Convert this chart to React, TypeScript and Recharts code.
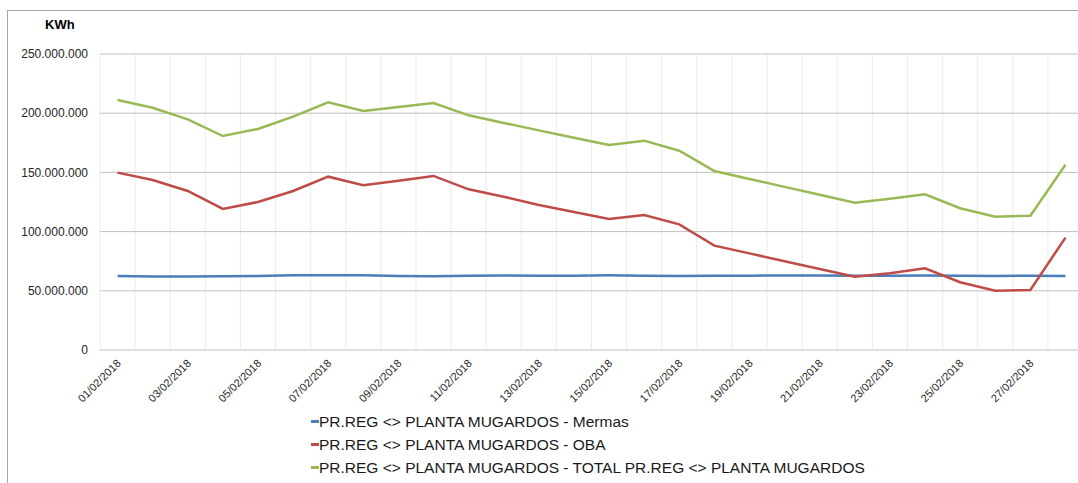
import {
  CartesianGrid,
  Legend,
  Line,
  LineChart,
  XAxis,
  YAxis,
} from "recharts";

const dates = [
  "01/02/2018", "02/02/2018", "03/02/2018", "04/02/2018", "05/02/2018",
  "06/02/2018", "07/02/2018", "08/02/2018", "09/02/2018", "10/02/2018",
  "11/02/2018", "12/02/2018", "13/02/2018", "14/02/2018", "15/02/2018",
  "16/02/2018", "17/02/2018", "18/02/2018", "19/02/2018", "20/02/2018",
  "21/02/2018", "22/02/2018", "23/02/2018", "24/02/2018", "25/02/2018",
  "26/02/2018", "27/02/2018", "28/02/2018",
];

const mermas = [
  62500000, 62000000, 62000000, 62300000, 62500000, 63100000, 63100000,
  63100000, 62500000, 62200000, 62800000, 63000000, 62800000, 62800000,
  63100000, 62800000, 62600000, 62800000, 62800000, 62900000, 63000000,
  62800000, 62800000, 62900000, 62800000, 62600000, 62800000, 62500000,
];

const oba = [
  149800000, 143600000, 134300000, 119100000, 125000000, 134300000, 146400000,
  139100000, 143000000, 147000000, 135700000, 129500000, 122500000, 116500000,
  110600000, 114000000, 106100000, 88100000, 81600000, 75000000, 68400000,
  61800000, 64800000, 69000000, 57200000, 50100000, 50700000, 94900000,
];

const total = [
  211100000, 204600000, 194800000, 180700000, 186700000, 197100000, 209200000,
  201900000, 205200000, 208600000, 198200000, 191800000, 185500000, 179200000,
  173100000, 176800000, 168300000, 151200000, 144500000, 137800000, 131100000,
  124400000, 127800000, 131500000, 119700000, 112600000, 113400000, 156500000,
];

const yTicks = [0, 50000000, 100000000, 150000000, 200000000, 250000000];

const SERIES = [
  { key: "mermas", name: "PR.REG <> PLANTA MUGARDOS - Mermas", color: "#4A7EBB" },
  { key: "oba", name: "PR.REG <> PLANTA MUGARDOS - OBA", color: "#BE4B48" },
  {
    key: "total",
    name: "PR.REG <> PLANTA MUGARDOS - TOTAL PR.REG <> PLANTA MUGARDOS",
    color: "#98B954",
  },
];

const FONT = "'Liberation Sans', Arial, sans-serif";

const data = dates.map((date, i) => ({
  idx: i,
  date,
  mermas: mermas[i],
  oba: oba[i],
  total: total[i],
}));

// tick marks / vertical grid sit between the days, labels on the days
const boundaryTicks = dates.map((_, i) => i - 0.5).concat(dates.length - 0.5);
const labelTicks = dates.map((_, i) => i).filter((i) => i % 2 === 0);

function fmt(v: number): string {
  return String(v).replace(/\B(?=(\d{3})+(?!\d))/g, ".");
}

function DateTick(props: any) {
  const { x, y, payload } = props;
  return (
    <g transform={`translate(${x + 4},${y + 14})`}>
      <text
        x={0}
        y={0}
        textAnchor="end"
        transform="rotate(-45)"
        fontSize={11}
        fontFamily={FONT}
        fill="#262626"
      >
        {dates[payload.value]}
      </text>
    </g>
  );
}

function LegendBox() {
  return (
    <div style={{ fontFamily: FONT, fontSize: 15.5, color: "#1a1a1a" }}>
      {SERIES.map((s) => (
        <div
          key={s.key}
          style={{ display: "flex", alignItems: "center", height: 23, whiteSpace: "nowrap" }}
        >
          <span
            style={{
              display: "inline-block",
              width: 8,
              height: 3,
              background: s.color,
            }}
          />
          {s.name}
        </div>
      ))}
    </div>
  );
}

export default function App() {
  return (
    <div
      style={{
        position: "absolute",
        left: 7,
        top: 10,
        width: 1071,
        height: 473,
        overflow: "hidden",
        borderLeft: "1px solid #a6a6a6",
        borderTop: "1px solid #a6a6a6",
        background: "#fff",
      }}
    >
      <div
        style={{
          position: "absolute",
          left: 37,
          top: 6,
          fontFamily: FONT,
          fontWeight: "bold",
          fontSize: 13,
          color: "#000",
        }}
      >
        KWh
      </div>
      <LineChart
        width={1075}
        height={473}
        data={data}
        margin={{ top: 43, right: 0, left: 0, bottom: 64 }}
      >
        <CartesianGrid xAxisId="grid" horizontal={false} stroke="#ececec" />
        <CartesianGrid xAxisId="grid" vertical={false} stroke="#c0c0c0" />
        <XAxis
          xAxisId="grid"
          dataKey="idx"
          type="number"
          domain={[-0.5, dates.length - 0.5]}
          ticks={boundaryTicks}
          interval={0}
          height={0}
          tickSize={4}
          tickFormatter={() => ""}
          axisLine={{ stroke: "#a6a6a6" }}
          tickLine={{ stroke: "#a6a6a6" }}
        />
        <XAxis
          xAxisId="lbl"
          dataKey="idx"
          type="number"
          domain={[-0.5, dates.length - 0.5]}
          ticks={labelTicks}
          interval={0}
          height={1}
          tickSize={0}
          tickMargin={0}
          axisLine={false}
          tickLine={false}
          tick={<DateTick />}
        />
        <YAxis
          width={92}
          domain={[0, 250000000]}
          ticks={yTicks}
          tickFormatter={fmt}
          axisLine={false}
          tickLine={false}
          tickSize={0}
          tickMargin={12}
          tick={{ fontSize: 12, fontFamily: FONT, fill: "#262626" }}
        />
        {SERIES.map((s) => (
          <Line
            key={s.key}
            xAxisId="lbl"
            type="linear"
            dataKey={s.key}
            name={s.name}
            stroke={s.color}
            strokeWidth={2.5}
            dot={false}
            activeDot={false}
            isAnimationActive={false}
          />
        ))}
        <Legend
          layout="vertical"
          align="center"
          verticalAlign="bottom"
          content={<LegendBox />}
          wrapperStyle={{ left: 303, top: 399, width: 600, bottom: "auto" }}
        />
      </LineChart>
    </div>
  );
}
